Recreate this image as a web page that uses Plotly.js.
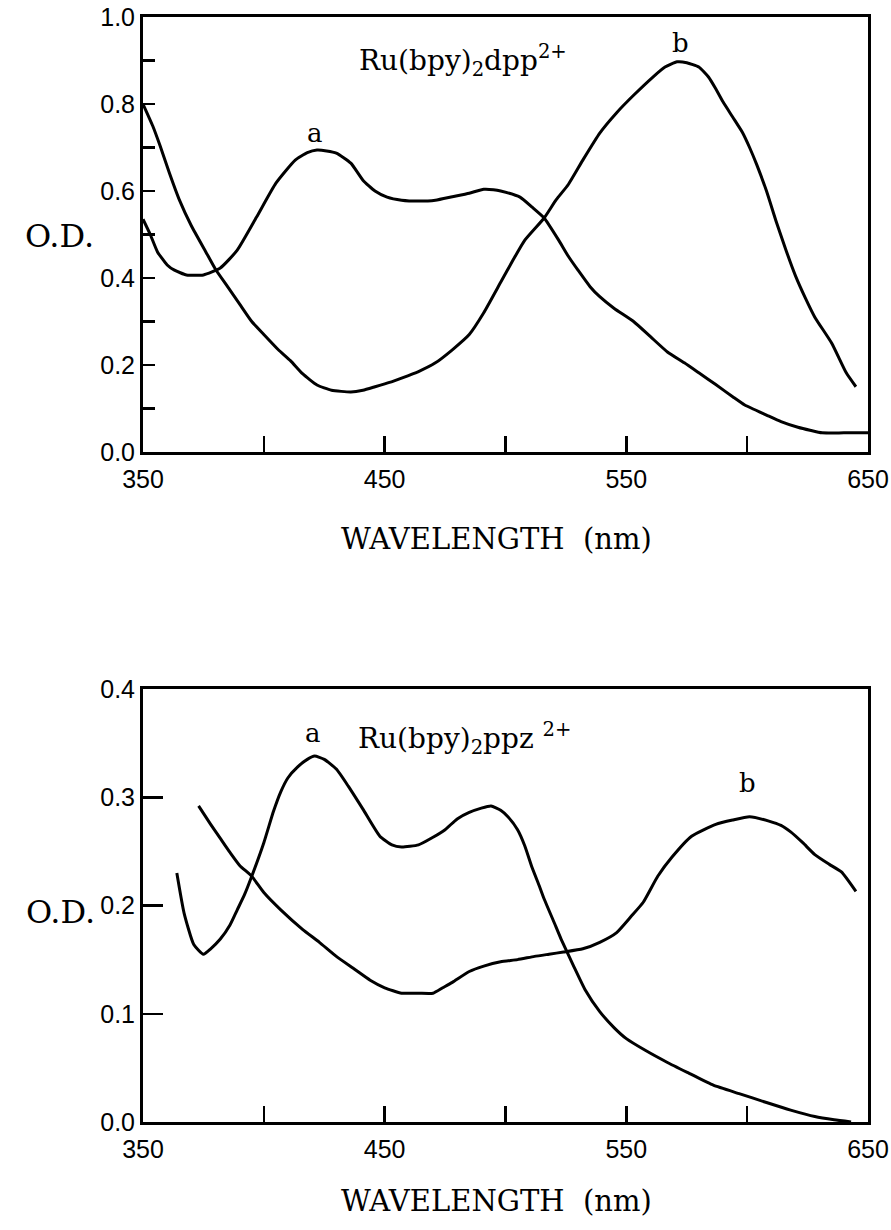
<!DOCTYPE html>
<html>
<head>
<meta charset="utf-8">
<script src="https://cdn.plot.ly/plotly-3.0.1.min.js"></script>
<style>html,body{margin:0;padding:0;background:#fff;}#chart{width:891px;height:1230px;}</style>
</head>
<body>
<div id="chart"></div>
<script>
// ---- Top panel: Ru(bpy)2dpp2+ ----
const topA_wl = [350,353,356,360,363,368,375,382,389,397,405,413,418,422,426,430,436,441,446,451,457,464,471,478,485,491,495,498,506,511,516,522,526,530,535,539,545,553,560,567,574,580,587,594,599,608,614,621,626,631,640,650];
const topA_od = [0.535,0.50,0.46,0.43,0.418,0.407,0.407,0.423,0.464,0.54,0.618,0.671,0.688,0.694,0.692,0.687,0.664,0.625,0.60,0.586,0.579,0.577,0.579,0.587,0.595,0.604,0.603,0.600,0.586,0.563,0.538,0.487,0.45,0.418,0.38,0.357,0.33,0.30,0.265,0.23,0.205,0.182,0.155,0.127,0.108,0.085,0.07,0.057,0.05,0.044,0.044,0.044];

const topB_wl = [350,354,357,361,365,370,376,380,385,390,395,400,406,411,416,422,428,436,441,446,452,457,464,471,478,485,491,498,503,508,516,521,526,532,539,546,553,561,566,571,575,580,584,587,590,594,598,601,604,608,612,616,620,624,628,635,641,645];
const topB_od = [0.80,0.75,0.705,0.64,0.58,0.52,0.46,0.42,0.38,0.34,0.30,0.27,0.235,0.21,0.18,0.154,0.142,0.138,0.142,0.15,0.16,0.17,0.185,0.205,0.235,0.27,0.32,0.39,0.44,0.487,0.538,0.58,0.615,0.671,0.733,0.78,0.82,0.862,0.885,0.897,0.895,0.885,0.862,0.835,0.805,0.77,0.735,0.70,0.66,0.60,0.53,0.465,0.405,0.355,0.31,0.25,0.182,0.15];

// ---- Bottom panel: Ru(bpy)2ppz2+ ----
const botA_wl = [364,367,371,375,378,382,386,389,392,395,400,404,407,410,414,418,421,425,430,435,441,448,453,457,464,470,475,480,485,490,494,498,501,505,508,511,514,516,520,523,528,533,539,545,550,558,567,576,586,597,608,618,628,636,643];
const botA_od = [0.23,0.193,0.164,0.155,0.16,0.169,0.182,0.196,0.21,0.227,0.258,0.287,0.305,0.318,0.328,0.335,0.338,0.335,0.326,0.31,0.289,0.264,0.256,0.254,0.256,0.263,0.27,0.28,0.286,0.29,0.292,0.288,0.282,0.27,0.255,0.235,0.218,0.206,0.185,0.169,0.145,0.122,0.102,0.087,0.077,0.066,0.055,0.045,0.034,0.026,0.018,0.011,0.005,0.002,0.0];

const botB_wl = [373,378,382,386,390,395,400,407,416,423,430,437,444,450,457,464,470,474,478,485,491,498,505,512,518,524,532,539,546,552,557,563,569,577,587,594,601,609,614,618,623,628,634,639,645];
const botB_od = [0.292,0.275,0.262,0.249,0.237,0.227,0.212,0.196,0.178,0.166,0.153,0.142,0.131,0.124,0.119,0.119,0.119,0.124,0.129,0.139,0.144,0.148,0.15,0.153,0.155,0.157,0.16,0.166,0.175,0.19,0.203,0.227,0.245,0.264,0.275,0.279,0.282,0.278,0.274,0.268,0.258,0.247,0.238,0.231,0.213];

// ---- Tick labels ----
const xTickVals = [350,450,550,650];
const xTickText = ['350','450','550','650'];
const xMinorVals = [400,500,600];
const topYTickVals = [0,0.2,0.4,0.6,0.8,1.0];
const topYTickText = ['0.0','0.2','0.4','0.6','0.8','1.0'];
const topYMinorVals = [0.1,0.3,0.5,0.7,0.9];
const botYTickVals = [0,0.1,0.2,0.3,0.4];
const botYTickText = ['0.0','0.1','0.2','0.3','0.4'];

const W = 891, H = 1230;
const px = v => v / W;
const py = v => 1 - v / H;

const lineStyle = {color: '#000', width: 3, shape: 'spline', smoothing: 0.5};
const traces = [
  {x: topA_wl, y: topA_od, xaxis: 'x', yaxis: 'y'},
  {x: topB_wl, y: topB_od, xaxis: 'x', yaxis: 'y'},
  {x: botA_wl, y: botA_od, xaxis: 'x2', yaxis: 'y2'},
  {x: botB_wl, y: botB_od, xaxis: 'x2', yaxis: 'y2'}
];
traces.forEach(t => { t.mode = 'lines'; t.line = Object.assign({}, lineStyle); t.hoverinfo = 'skip'; t.showlegend = false; });

const tickFont = {family: 'Liberation Sans, Arial, sans-serif', size: 25, color: '#000'};
const serif = 'DejaVu Serif, serif';

const xCommon = {
  range: [350, 650], showgrid: false, zeroline: false,
  showline: true, mirror: true, linewidth: 3, linecolor: '#000',
  ticks: 'inside', ticklen: 16, tickwidth: 2.5, tickcolor: '#000',
  tickmode: 'array', tickvals: xTickVals, ticktext: xTickText, tickfont: tickFont, ticklabelstandoff: 3,
  minor: {tickmode: 'array', tickvals: xMinorVals, ticks: 'inside', ticklen: 16, tickwidth: 2.5, tickcolor: '#000', showgrid: false}
};
const yCommon = {
  showgrid: false, zeroline: false,
  showline: true, mirror: true, linewidth: 3, linecolor: '#000',
  ticks: 'inside', tickwidth: 2.5, tickcolor: '#000', tickfont: tickFont, ticklabelstandoff: 0,
  tickmode: 'array'
};

const layout = {
  width: W, height: H,
  margin: {l: 0, r: 0, t: 0, b: 0},
  paper_bgcolor: '#fff', plot_bgcolor: '#fff',
  showlegend: false,
  xaxis: Object.assign({}, xCommon, {domain: [px(143), px(868)], anchor: 'y'}),
  yaxis: Object.assign({}, yCommon, {domain: [py(452), py(17)], anchor: 'x', range: [0, 1],
    tickvals: topYTickVals, ticktext: topYTickText, ticklen: 12,
    minor: {tickmode: 'array', tickvals: topYMinorVals, ticks: 'inside', ticklen: 12, tickwidth: 2.5, tickcolor: '#000', showgrid: false}}),
  xaxis2: Object.assign({}, xCommon, {domain: [px(143), px(868)], anchor: 'y2'}),
  yaxis2: Object.assign({}, yCommon, {domain: [py(1122), py(689)], anchor: 'x2', range: [0, 0.4],
    tickvals: botYTickVals, ticktext: botYTickText, ticklen: 20}),
  annotations: [
    {text: 'O.D.', xref: 'paper', yref: 'paper', x: px(96), y: py(236), xanchor: 'right', yanchor: 'middle', showarrow: false, font: {family: serif, size: 32, color: '#000'}},
    {text: 'O.D.', xref: 'paper', yref: 'paper', x: px(97), y: py(912), xanchor: 'right', yanchor: 'middle', showarrow: false, font: {family: serif, size: 32, color: '#000'}},
    {text: 'WAVELENGTH  (nm)', xref: 'paper', yref: 'paper', x: px(496), y: py(539), xanchor: 'center', yanchor: 'middle', showarrow: false, font: {family: serif, size: 29, color: '#000'}},
    {text: 'WAVELENGTH  (nm)', xref: 'paper', yref: 'paper', x: px(496), y: py(1201), xanchor: 'center', yanchor: 'middle', showarrow: false, font: {family: serif, size: 29, color: '#000'}},
    {text: 'Ru(bpy)<sub>2</sub>dpp<sup>2+</sup>', xref: 'paper', yref: 'paper', x: px(463), y: py(60), xanchor: 'center', yanchor: 'middle', showarrow: false, font: {family: serif, size: 28, color: '#000'}},
    {text: 'Ru(bpy)<sub>2</sub>ppz <sup>2+</sup>', xref: 'paper', yref: 'paper', x: px(465), y: py(738), xanchor: 'center', yanchor: 'middle', showarrow: false, font: {family: serif, size: 28, color: '#000'}},
    {text: 'a', xref: 'paper', yref: 'paper', x: px(315), y: py(133), xanchor: 'center', yanchor: 'middle', showarrow: false, font: {family: serif, size: 26, color: '#000'}},
    {text: 'b', xref: 'paper', yref: 'paper', x: px(680), y: py(43), xanchor: 'center', yanchor: 'middle', showarrow: false, font: {family: serif, size: 26, color: '#000'}},
    {text: 'a', xref: 'paper', yref: 'paper', x: px(313), y: py(733), xanchor: 'center', yanchor: 'middle', showarrow: false, font: {family: serif, size: 26, color: '#000'}},
    {text: 'b', xref: 'paper', yref: 'paper', x: px(747), y: py(783), xanchor: 'center', yanchor: 'middle', showarrow: false, font: {family: serif, size: 26, color: '#000'}}
  ]
};

Plotly.newPlot('chart', traces, layout, {staticPlot: true, displayModeBar: false});
</script>
</body>
</html>
